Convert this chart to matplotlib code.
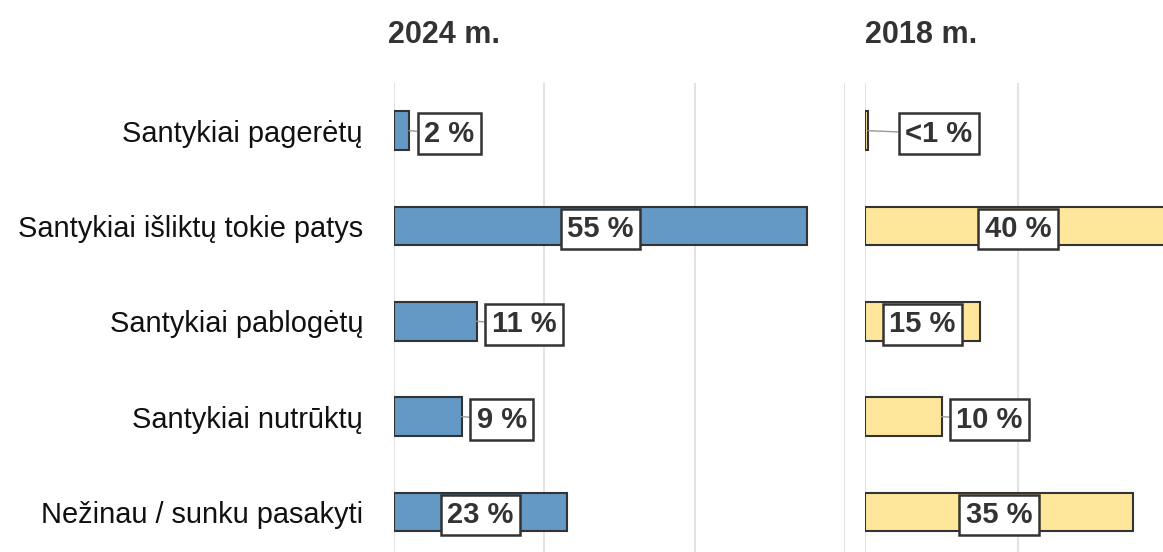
import matplotlib
matplotlib.use("Agg")
import matplotlib.pyplot as plt

plt.rcParams["font.family"] = ["Liberation Sans", "DejaVu Sans"]

# -----------------------------
# Data
# -----------------------------
categories = [
    "Santykiai pagerėtų",
    "Santykiai išliktų tokie patys",
    "Santykiai pablogėtų",
    "Santykiai nutrūktų",
    "Nežinau / sunku pasakyti",
]
values_2024 = [2, 55, 11, 9, 23]
values_2018 = [0.4, 40, 15, 10, 35]
panel_titles = ["2024 m.", "2018 m."]

blue = "#6399c4"
yellow = "#fee69a"
dark = "#333333"

W, H = 1163, 552
fig = plt.figure(figsize=(W / 100, H / 100), dpi=100)

ax1 = fig.add_axes([394 / W, 0, 451 / W, 469 / H])
ax2 = fig.add_axes([865 / W, 0, 298 / W, 469 / H])

y = list(range(len(categories)))


def label_text(v):
    if v < 1:
        return "<1 %"
    return f"{v:.0f} %"


def draw_panel(ax, values, color, xmax, title, title_dx):
    ax.barh(y, values, height=0.405, color=color, edgecolor=dark,
            linewidth=1.5, zorder=3)
    ax.set_xticks([0, 20, 40, 60])
    ax.set_xlim(0, xmax)
    ax.set_ylim(4.42, -0.5)
    ax.grid(axis="x", color="#dddddd", linewidth=1.2, zorder=0)
    ax.tick_params(length=0, labelbottom=False, labelleft=False)
    for s in ax.spines.values():
        s.set_visible(False)

    box = dict(boxstyle="square,pad=0.22", fc="white", ec=dark, lw=1.8)
    for yi, v in zip(y, values):
        txt = label_text(v)
        if v >= 13:
            ax.text(v / 2, yi, txt, ha="center", va="center_baseline",
                    fontsize=21, fontweight="bold", color=dark, bbox=box,
                    zorder=5)
        else:
            gap = 8 if v >= 1 else 30
            ax.annotate(txt, xy=(v, yi), xytext=(gap + 7, 0),
                        textcoords="offset pixels", ha="left",
                        va="center_baseline",
                        fontsize=21, fontweight="bold", color=dark, bbox=box,
                        arrowprops=dict(arrowstyle="-", color="#999999",
                                        lw=1, shrinkA=0, shrinkB=0),
                        zorder=5)

    ax.annotate(title, xy=(0, 1), xycoords="axes fraction",
                xytext=(title_dx, 48), textcoords="offset pixels",
                ha="left", va="center", fontsize=22, fontweight="bold",
                color=dark, annotation_clip=False)


draw_panel(ax1, values_2024, blue, 60, panel_titles[0], -6)
draw_panel(ax2, values_2018, yellow, 298 / 7.65, panel_titles[1], 0)

ax1.set_yticks(y)
ax1.set_yticklabels(categories, fontsize=20.9, color="#111111")
ax1.tick_params(labelleft=True, pad=31 * 0.72)

fig.savefig("out.png", dpi=100)
